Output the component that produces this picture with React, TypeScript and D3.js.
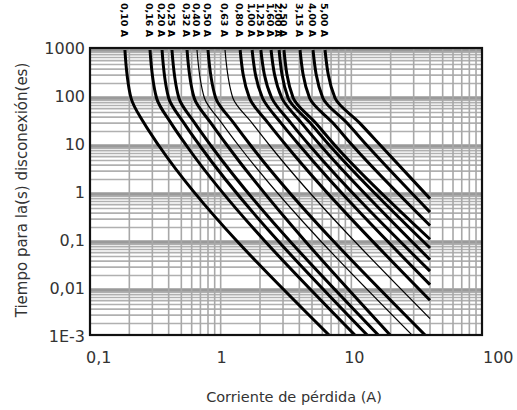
import React from "react";
import * as d3 from "d3";

// Fuse ratings (labels printed above each curve)
const ratings = [
  "0,10 A", "0,16 A", "0,20 A", "0,25 A", "0,32 A", "0,40 A", "0,50 A", "0,63 A", "0,80 A",
  "1,00 A", "1,25 A", "1,60 A", "2,00 A", "2,50 A", "3,15 A", "4,00 A", "5,00 A",
];
const thinCurve = [false, false, false, false, false, true, false, true, false, false, false, false, false, false, false, false, false];

// Current (A) at fixed disconnection times
const current1000s = [0.185, 0.288, 0.356, 0.424, 0.553, 0.659, 0.8, 1.08, 1.41, 1.74, 2.03, 2.43, 2.8, 3.05, 4.05, 5.09, 6.29];
const current100s = [0.206, 0.323, 0.4, 0.479, 0.627, 0.751, 0.916, 1.24, 1.66, 2.09, 2.46, 2.94, 3.28, 3.59, 4.79, 6.05, 7.5];
const current30s = [0.259, 0.417, 0.524, 0.634, 0.843, 1.02, 1.26, 1.74, 2.31, 2.9, 3.45, 4.17, 4.85, 5.34, 7.24, 9.27, 11.6];
const current10s = [0.338, 0.55, 0.695, 0.846, 1.13, 1.38, 1.71, 2.39, 3.2, 4.05, 4.83, 5.86, 6.87, 7.56, 10.3, 13.3, 16.9];
// Where each curve stops
const endCurrent = [7.11, 11.2, 13.9, 16.9, 20.8, 30.7, 38.6, 40, 40, 40, 40, 40, 40, 40, 40, 40, 40];
const endTime = [0.001, 0.001, 0.001, 0.001, 0.001, 0.001, 0.001, 0.00254, 0.0061, 0.0129, 0.0247, 0.0428, 0.075, 0.114, 0.22, 0.42, 0.8];

const xTickValues = [0.1, 1, 10, 100];
const xTickLabels = ["0,1", "1", "10", "100"];
const yTickValues = [1000, 100, 10, 1, 0.1, 0.01, 0.001];
const yTickLabels = ["1000", "100", "10", "1", "0,1", "0,01", "1E-3"];

const xTitle = "Corriente de pérdida (A)";
const yTitle = "Tiempo para la(s) disconexión(es)";

export default function App() {
  const W = 517;
  const H = 410;
  const left = 90, right = 482, top = 48, bottom = 335;
  const x = d3.scaleLog().domain([0.1, 100]).range([left, right]);
  const y = d3.scaleLog().domain([0.001, 1000]).range([338, 50]);

  const hGrid: { v: number; major: boolean }[] = [];
  for (let e = -3; e <= 2; e++) {
    for (let k = 1; k <= 9; k++) hGrid.push({ v: k * Math.pow(10, e), major: k === 1 });
  }
  hGrid.push({ v: 1000, major: true });
  const vGrid: { v: number; major: boolean }[] = [];
  for (let e = -1; e <= 1; e++) {
    for (let k = 1; k <= 9; k++) vGrid.push({ v: k * Math.pow(10, e), major: k === 1 });
  }
  vGrid.push({ v: 100, major: true });

  const line = d3
    .line<[number, number]>()
    .x((d) => x(d[0]))
    .y((d) => y(d[1]))
    .curve(d3.curveMonotoneY);

  const curves = ratings.map((r, i) => {
    const pts: [number, number][] = [
      [current1000s[i], 1000],
      [current100s[i], 100],
      [current30s[i], 30],
      [current10s[i], 10],
      [endCurrent[i], endTime[i]],
    ];
    return { r, d: line(pts) || "", thin: thinCurve[i], xTop: x(current1000s[i]) };
  });

  const xAnchors = ["start", "middle", "middle", "start"];
  const xOffsets = [-4, 1, 3, 1];

  return (
    <svg
      width={W}
      height={H}
      viewBox={`0 0 ${W} ${H}`}
      style={{ position: "absolute", left: 0, top: 0, background: "#fff" }}
      fontFamily="'DejaVu Sans', sans-serif"
    >
      <defs>
        <clipPath id="plotClip">
          <rect x={left} y={top} width={right - left} height={bottom - top} />
        </clipPath>
      </defs>
      <rect x={0} y={0} width={W} height={H} fill="#fff" />
      <g clipPath="url(#plotClip)">
        {hGrid.map((g, i) => (
          <line
            key={"h" + i}
            x1={left}
            x2={right}
            y1={y(g.v)}
            y2={y(g.v)}
            stroke={g.major ? "#9a9a9a" : "#b0b0b0"}
            strokeWidth={g.major ? 3.5 : 1.6}
          />
        ))}
        {vGrid.map((g, i) => (
          <line
            key={"v" + i}
            x1={x(g.v)}
            x2={x(g.v)}
            y1={top}
            y2={bottom}
            stroke="#a8a8a8"
            strokeWidth={1.6}
          />
        ))}
        {curves.map((c, i) => (
          <path
            key={"c" + i}
            d={c.d}
            fill="none"
            stroke="#000"
            strokeWidth={c.thin ? 1.2 : 3}
            strokeLinejoin="round"
          />
        ))}
      </g>
      <rect x={left} y={top} width={right - left} height={bottom - top} fill="none" stroke="#111" strokeWidth={2.2} />

      {curves.map((c, i) => (
        <text
          key={"l" + i}
          transform={`translate(${c.xTop - 1},3) rotate(90)`}
          dy="0.35em"
          fontSize={9.5}
          fontWeight="bold"
          fill="#000"
        >
          {c.r}
        </text>
      ))}

      {yTickValues.map((v, i) => (
        <text key={"yt" + i} x={85} y={y(v) - 2} dy="0.36em" textAnchor="end" fontSize={16} fill="#333">
          {yTickLabels[i]}
        </text>
      ))}
      {xTickValues.map((v, i) => (
        <text
          key={"xt" + i}
          x={x(v) + xOffsets[i]}
          y={363}
          textAnchor={xAnchors[i] as any}
          fontSize={16}
          fill="#333"
        >
          {xTickLabels[i]}
        </text>
      ))}
      <text x={294} y={402} textAnchor="middle" fontSize={14.5} fill="#333">
        {xTitle}
      </text>
      <text transform="translate(27,190) rotate(-90)" textAnchor="middle" fontSize={15} fill="#333">
        {yTitle}
      </text>
    </svg>
  );
}
